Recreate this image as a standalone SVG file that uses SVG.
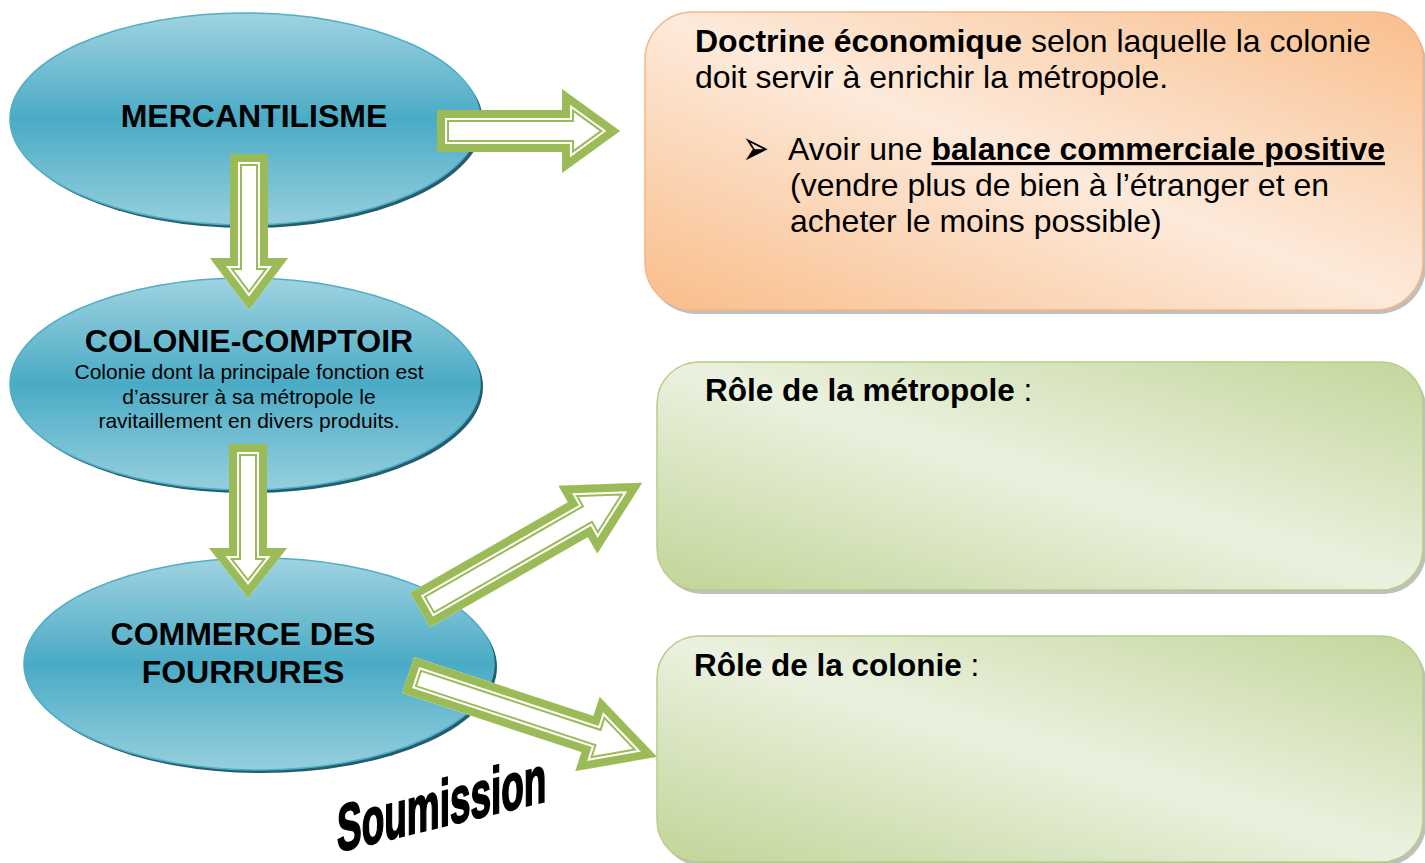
<svg xmlns="http://www.w3.org/2000/svg" xmlns:xlink="http://www.w3.org/1999/xlink" width="1425" height="863" viewBox="0 0 1425 863">
<style>
.t{font-family:"Liberation Sans",Arial,sans-serif;fill:#000}
.big{font-size:32px;font-weight:bold;text-anchor:middle}
.sub{font-size:21px;text-anchor:middle}
.box{font-size:31.5px}
.b{font-weight:bold}
.ell{fill:url(#gEll);stroke:#4FAFC8;stroke-width:1.5}
.shd{fill:#245E6E}
.a1{fill:#fff;stroke:#9BBB59;stroke-width:24;stroke-linejoin:miter;stroke-miterlimit:10}
.a2{fill:none;stroke:#fff;stroke-width:20;stroke-linejoin:miter;stroke-miterlimit:10}
.a3{fill:none;stroke:#9BBB59;stroke-width:16;stroke-linejoin:miter;stroke-miterlimit:10}
.bshd{fill:#8a8a8a;opacity:0.55}
</style>
<defs>
<linearGradient id="gEll" x1="0" y1="0" x2="0" y2="1">
<stop offset="0" stop-color="#A0D3E1"/>
<stop offset="0.5" stop-color="#4AABC5"/>
<stop offset="1" stop-color="#96CFDE"/>
</linearGradient>
<linearGradient id="gOr" x1="0" y1="1" x2="1" y2="0">
<stop offset="0" stop-color="#F9BD8A"/>
<stop offset="0.5" stop-color="#FDEADB"/>
<stop offset="1" stop-color="#F9BE8C"/>
</linearGradient>
<linearGradient id="gGr" x1="0" y1="1" x2="1" y2="0">
<stop offset="0" stop-color="#C1D598"/>
<stop offset="0.5" stop-color="#EBF1DF"/>
<stop offset="1" stop-color="#C3D69B"/>
</linearGradient>
<path id="pA" d="M0,-21 L125,-21 L125,-42 L183,0 L125,42 L125,21 L0,21 Z"/>
<path id="pB" d="M0,-19 L104,-19 L104,-39 L156,0 L104,39 L104,19 L0,19 Z"/>
<path id="pC" d="M0,-19 L104,-19 L104,-39 L154,0 L104,39 L104,19 L0,19 Z"/>
<path id="pD" d="M0,-20 L182,-20 L182,-39 L256,0 L182,39 L182,20 L0,20 Z"/>
<path id="pE" d="M0,-19 L189,-19 L189,-39 L262,0 L189,39 L189,19 L0,19 Z"/>
<clipPath id="cA"><use xlink:href="#pA"/></clipPath>
<clipPath id="cB"><use xlink:href="#pB"/></clipPath>
<clipPath id="cC"><use xlink:href="#pC"/></clipPath>
<clipPath id="cD"><use xlink:href="#pD"/></clipPath>
<clipPath id="cE"><use xlink:href="#pE"/></clipPath>
</defs>
<rect width="1425" height="863" fill="#fff"/>

<g id="box-doctrine">
<rect class="bshd" x="648" y="16" width="778" height="298" rx="48"/>
<rect x="645" y="12" width="778" height="298" rx="48" fill="url(#gOr)" stroke="#F6B583" stroke-width="1.5"/>
<text class="t box" x="695" y="52" style="font-size:32px"><tspan class="b">Doctrine économique</tspan> selon laquelle la colonie</text>
<text class="t box" x="695" y="88" style="font-size:32px">doit servir à enrichir la métropole.</text>
<text transform="translate(742,165) scale(1.35,2.1)" x="0" y="0" style="font-family:'DejaVu Sans',sans-serif;font-size:24px;fill:#000">➢</text>
<text class="t box" x="788" y="160" style="font-size:32px">Avoir une <tspan class="b" text-decoration="underline">balance commerciale positive</tspan></text>
<text class="t box" x="790" y="196" style="font-size:32px">(vendre plus de bien à l’étranger et en</text>
<text class="t box" x="790" y="232" style="font-size:32px">acheter le moins possible)</text>
</g>

<g id="box-metropole">
<rect class="bshd" x="660" y="366" width="766" height="228" rx="42"/>
<rect x="657" y="362" width="766" height="228" rx="42" fill="url(#gGr)" stroke="#B7CD88" stroke-width="1.5"/>
<text class="t box" x="705" y="401"><tspan class="b">Rôle de la métropole</tspan> :</text>
</g>

<g id="box-colonie">
<rect class="bshd" x="660" y="640" width="766" height="226" rx="42"/>
<rect x="657" y="636" width="766" height="226" rx="42" fill="url(#gGr)" stroke="#B7CD88" stroke-width="1.5"/>
<text class="t box" x="694" y="676"><tspan class="b">Rôle de la colonie</tspan> :</text>
</g>

<g id="node-mercantilisme">
<ellipse class="shd" cx="248" cy="122" rx="235" ry="106"/>
<ellipse class="ell" cx="245" cy="119" rx="235" ry="106"/>
<text class="t big" x="254" y="127">MERCANTILISME</text>
</g>

<g id="node-colonie-comptoir">
<ellipse class="shd" cx="248" cy="387" rx="235" ry="106"/>
<ellipse class="ell" cx="245" cy="384" rx="235" ry="106"/>
<text class="t big" x="249" y="352">COLONIE-COMPTOIR</text>
<text class="t sub" x="249" y="379">Colonie dont la principale fonction est</text>
<text class="t sub" x="249" y="404">d’assurer à sa métropole le</text>
<text class="t sub" x="249" y="428">ravitaillement en divers produits.</text>
</g>

<g id="node-commerce">
<ellipse class="shd" cx="262" cy="667" rx="235" ry="106"/>
<ellipse class="ell" cx="259" cy="664" rx="235" ry="106"/>
<text class="t big" x="243" y="645">COMMERCE DES</text>
<text class="t big" x="243" y="683">FOURRURES</text>
</g>

<g id="connectors">
<g transform="translate(437,131)"><g clip-path="url(#cA)"><use xlink:href="#pA" class="a1"/><use xlink:href="#pA" class="a2"/><use xlink:href="#pA" class="a3"/></g></g>
<g transform="translate(249,154) rotate(90)"><g clip-path="url(#cB)"><use xlink:href="#pB" class="a1"/><use xlink:href="#pB" class="a2"/><use xlink:href="#pB" class="a3"/></g></g>
<g transform="translate(248,444) rotate(90)"><g clip-path="url(#cC)"><use xlink:href="#pC" class="a1"/><use xlink:href="#pC" class="a2"/><use xlink:href="#pC" class="a3"/></g></g>
<g transform="translate(420,610) rotate(-29.8)"><g clip-path="url(#cD)"><use xlink:href="#pD" class="a1"/><use xlink:href="#pD" class="a2"/><use xlink:href="#pD" class="a3"/></g></g>
<g transform="translate(408,675) rotate(18.2)"><g clip-path="url(#cE)"><use xlink:href="#pE" class="a1"/><use xlink:href="#pE" class="a2"/><use xlink:href="#pE" class="a3"/></g></g>
</g>

<g id="label-soumission">
<text class="t b" transform="translate(337,852) skewY(-13.7) scale(0.56,1)" x="0" y="0" stroke="#000" stroke-width="2" style="font-size:66px">Soumission</text>
</g>
</svg>
